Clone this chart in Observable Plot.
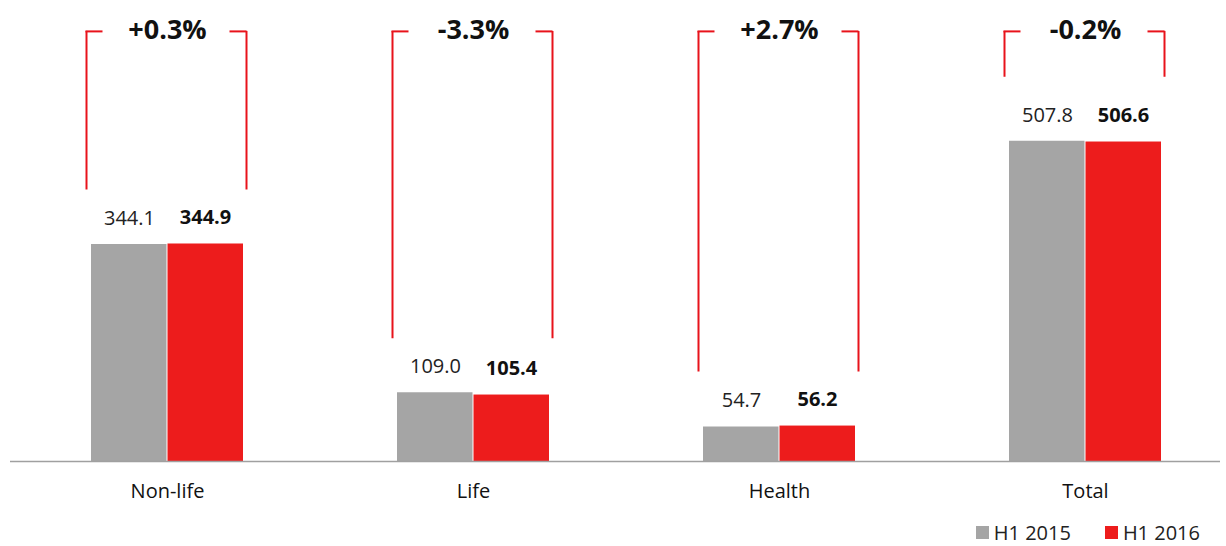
<!DOCTYPE html>
<html>
<head>
<meta charset="utf-8">
<script src="https://cdn.jsdelivr.net/npm/d3@7"></script>
<script src="https://cdn.jsdelivr.net/npm/@observablehq/plot@0.6"></script>
<style>
  html, body { margin: 0; padding: 0; background: #fff; }
  #wrap { width: 1226px; height: 546px; position: relative; font-family: "Open Sans", sans-serif; }
  #legend { position: absolute; left: 0; top: 519px; width: 1226px; height: 27px; display: flex; justify-content: flex-end; align-items: center; font-size: 20px; line-height: 27px; color: #222; }
  .item { display: flex; align-items: center; margin-right: 26px; }
  .item:first-child { margin-right: 34px; }
  .sw { width: 13px; height: 13px; margin-right: 5px; }
</style>
</head>
<body>
<div id="wrap"><div id="chart"></div><div id="legend"></div></div>
<script>
const categories = ["Non-life", "Life", "Health", "Total"];
const h1_2015 = [344.1, 109.0, 54.7, 507.8];
const h1_2016 = [344.9, 105.4, 56.2, 506.6];
const changes = ["+0.3%", "-3.3%", "+2.7%", "-0.2%"];
const seriesNames = ["H1 2015", "H1 2016"];
const seriesColors = ["#a5a5a5", "#ed1c1c"];

const rows = categories.map((c, i) => ({
  category: c,
  a: h1_2015[i],
  b: h1_2016[i],
  change: changes[i],
  max: Math.max(h1_2015[i], h1_2016[i])
}));
const bracketTop = 682;
const red = "#e8131b";
const ruleStyle = {stroke: red, strokeWidth: 2};
const notTotal = rows.filter(d => d.category !== "Total");
const total = rows.filter(d => d.category === "Total");

const chart = Plot.plot({
  width: 1226,
  height: 515,
  marginTop: 0,
  marginBottom: 54,
  marginLeft: 10,
  marginRight: 6,
  style: {fontFamily: "Open Sans, sans-serif", background: "white", overflow: "visible"},
  x: {domain: categories, range: [12, 1239], padding: 0, axis: null},
  y: {domain: [0, 731], axis: null},
  marks: [
    Plot.barY(rows, {x: "category", y: "a", fill: seriesColors[0], insetLeft: 77, insetRight: 153.5}),
    Plot.barY(rows, {x: "category", y: "b", fill: seriesColors[1], insetLeft: 153.5, insetRight: 77}),
    Plot.ruleY([0], {stroke: "#a0a0a0", strokeWidth: 1.3}),
    Plot.axisX({tickSize: 0, tickPadding: 22, fontSize: 20, fill: "#111", label: null}),
    Plot.text(rows, {x: "category", y: "a", text: d => d.a.toFixed(1), dx: -38, dy: -26, fontSize: 20, fill: "#222"}),
    Plot.text(rows, {x: "category", y: "b", text: d => d.b.toFixed(1), dx: 38, dy: -26, fontSize: 20, fontWeight: "bold", fill: "#111"}),
    // bracket verticals
    Plot.ruleX(notTotal, {x: "category", y1: () => bracketTop, y2: "max", dx: -81, insetBottom: 54, ...ruleStyle}),
    Plot.ruleX(notTotal, {x: "category", y1: () => bracketTop, y2: "max", dx: 79, insetBottom: 54, ...ruleStyle}),
    Plot.ruleX(total, {x: "category", y1: () => bracketTop, y2: "max", dx: -81, insetBottom: 64, ...ruleStyle}),
    Plot.ruleX(total, {x: "category", y1: () => bracketTop, y2: "max", dx: 79, insetBottom: 64, ...ruleStyle}),
    // bracket top ticks
    Plot.tickY(rows, {x: "category", y: () => bracketTop, insetLeft: 71.5, insetRight: 217.5, ...ruleStyle}),
    Plot.tickY(rows, {x: "category", y: () => bracketTop, insetLeft: 215.5, insetRight: 73.5, ...ruleStyle}),
    Plot.text(rows, {x: "category", y: () => bracketTop, text: "change", dy: -1, fontSize: 27, fontWeight: "bold", fill: "#111"})
  ]
});
document.getElementById("chart").appendChild(chart);

const legend = document.getElementById("legend");
seriesNames.forEach((n, i) => {
  const it = document.createElement("div");
  it.className = "item";
  const sw = document.createElement("div");
  sw.className = "sw";
  sw.style.background = seriesColors[i];
  const t = document.createElement("span");
  t.textContent = n;
  it.appendChild(sw);
  it.appendChild(t);
  legend.appendChild(it);
});
</script>
</body>
</html>
